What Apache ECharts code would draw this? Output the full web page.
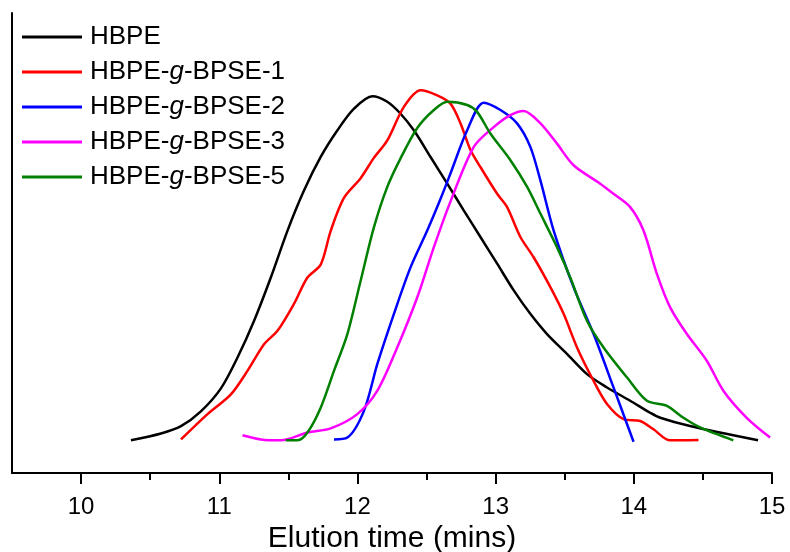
<!DOCTYPE html>
<html>
<head>
<meta charset="utf-8">
<script src="https://cdn.jsdelivr.net/npm/echarts@6/dist/echarts.min.js"></script>
<style>html,body{margin:0;padding:0;background:#fff}#c{width:790px;height:552px}</style>
</head>
<body>
<div id="c"></div>
<script>
var seriesNames = ['HBPE', 'HBPE-g-BPSE-1', 'HBPE-g-BPSE-2', 'HBPE-g-BPSE-3', 'HBPE-g-BPSE-5'];
var majorTicks = [10, 11, 12, 13, 14, 15];
var minorTicks = [10.5, 11.5, 12.5, 13.5, 14.5];

var hbpe = [[10.361,7.1],[10.578,8.6],[10.723,10.2],[10.867,13.4],[11.012,18.4],[11.132,25.1],[11.252,33.1],[11.373,42.5],[11.494,52.7],[11.613,61.4],[11.734,68.7],[11.855,74.5],[11.975,79.2],[12.108,81.9],[12.216,80.7],[12.312,78.1],[12.408,74.5],[12.529,68.7],[12.650,62.9],[12.769,57.1],[12.890,51.3],[13.011,45.5],[13.131,39.7],[13.251,34.6],[13.372,30.2],[13.516,25.9],[13.661,21.5],[13.806,18.6],[13.974,15.7],[14.118,13.1],[14.191,12.0],[14.407,10.2],[14.899,7.1]];
var bpse1 = [[10.723,7.3],[10.915,12.8],[11.084,17.1],[11.204,22.2],[11.324,28.0],[11.421,30.9],[11.541,36.8],[11.638,42.5],[11.734,45.3],[11.806,52.6],[11.902,59.8],[12.023,64.1],[12.119,68.5],[12.216,72.3],[12.336,79.6],[12.457,83.2],[12.577,82.1],[12.673,80.3],[12.746,76.0],[12.818,70.2],[12.890,66.5],[13.011,60.7],[13.083,57.8],[13.179,51.3],[13.275,46.9],[13.396,40.4],[13.492,34.6],[13.589,27.3],[13.709,20.0],[13.806,15.0],[13.926,11.7],[14.046,11.3],[14.142,9.5],[14.263,7.1],[14.468,7.2]];
var bpse2 = [[11.830,7.3],[11.927,7.7],[12.047,13.5],[12.144,23.7],[12.264,34.6],[12.384,44.7],[12.505,52.7],[12.600,59.5],[12.673,65.1],[12.794,74.5],[12.914,80.5],[13.035,78.9],[13.155,76.0],[13.251,70.9],[13.324,63.6],[13.420,52.7],[13.564,40.4],[13.709,30.2],[13.853,18.6],[13.998,6.8]];
var bpse3 = [[11.168,8.2],[11.301,7.3],[11.445,7.1],[11.638,8.8],[11.806,9.7],[11.999,12.8],[12.144,17.9],[12.288,27.3],[12.433,38.2],[12.553,49.1],[12.673,59.0],[12.842,70.9],[12.986,75.2],[13.107,77.8],[13.203,78.7],[13.324,76.0],[13.444,71.6],[13.564,66.9],[13.757,62.9],[13.853,60.7],[13.974,57.8],[14.070,52.7],[14.167,43.3],[14.263,36.0],[14.384,30.2],[14.528,24.4],[14.648,17.9],[14.817,12.0],[14.986,7.7]];
var bpse5 = [[11.481,7.1],[11.566,7.1],[11.638,8.8],[11.734,14.2],[11.830,22.2],[11.927,30.2],[12.023,41.8],[12.119,53.4],[12.216,62.2],[12.312,68.4],[12.433,75.0],[12.553,78.9],[12.650,80.7],[12.794,80.0],[12.866,78.5],[12.962,73.8],[13.107,68.0],[13.228,62.2],[13.324,56.4],[13.444,49.1],[13.540,42.5],[13.661,33.1],[13.781,27.3],[13.950,20.8],[14.095,15.7],[14.239,14.6],[14.359,12.0],[14.480,9.9],[14.720,7.1]];

var colors = ['#000000', '#ff0000', '#0000ff', '#ff00ff', '#008000'];
var dataSets = [hbpe, bpse1, bpse2, bpse3, bpse5];

var chart = echarts.init(document.getElementById('c'), null, {renderer: 'canvas'});
var font = 'Arial, "Liberation Sans", sans-serif';

chart.setOption({
  animation: false,
  backgroundColor: '#ffffff',
  grid: {left: 12, right: 18, top: 13, bottom: 79, containLabel: false, outerBoundsMode: 'none'},
  legend: {
    orient: 'vertical',
    left: 22,
    top: 24,
    padding: 0,
    icon: 'rect',
    itemWidth: 60,
    itemHeight: 3,
    itemGap: 9,
    data: seriesNames,
    formatter: function (n) { return n.replace('-g-', '-{i|g}-'); },
    textStyle: {
      fontFamily: font, fontSize: 26, color: '#000', lineHeight: 24, padding: [0, 0, 0, 3],
      rich: {i: {fontStyle: 'italic', fontFamily: font, fontSize: 26, lineHeight: 24, color: '#000'}}
    }
  },
  xAxis: [{
    type: 'value', min: 9.5, max: 15,
    name: 'Elution time (mins)', nameLocation: 'middle', nameGap: 47,
    nameTextStyle: {fontFamily: font, fontSize: 30, color: '#000'},
    axisLine: {lineStyle: {color: '#000', width: 2}},
    axisTick: {show: true, inside: false, length: 11, customValues: majorTicks, lineStyle: {color: '#000', width: 2}},
    axisLabel: {customValues: majorTicks, margin: 22, fontFamily: font, fontSize: 24, color: '#000'},
    splitLine: {show: false}
  }, {
    type: 'value', min: 9.5, max: 15, position: 'bottom', gridIndex: 0,
    axisLine: {show: false},
    axisTick: {show: true, inside: false, length: 7, customValues: minorTicks, lineStyle: {color: '#000', width: 2}},
    axisLabel: {show: false},
    splitLine: {show: false}
  }],
  yAxis: {
    type: 'value', min: 0, max: 100,
    axisLine: {show: true, lineStyle: {color: '#000', width: 2}},
    axisTick: {show: false}, axisLabel: {show: false}, splitLine: {show: false}
  },
  series: dataSets.map(function (d, i) {
    return {
      name: seriesNames[i], type: 'line', data: d, xAxisIndex: 0,
      smooth: 0.3, symbol: 'none', showSymbol: false,
      lineStyle: {color: colors[i], width: 2.5}, itemStyle: {color: colors[i]}
    };
  })
});
</script>
</body>
</html>
